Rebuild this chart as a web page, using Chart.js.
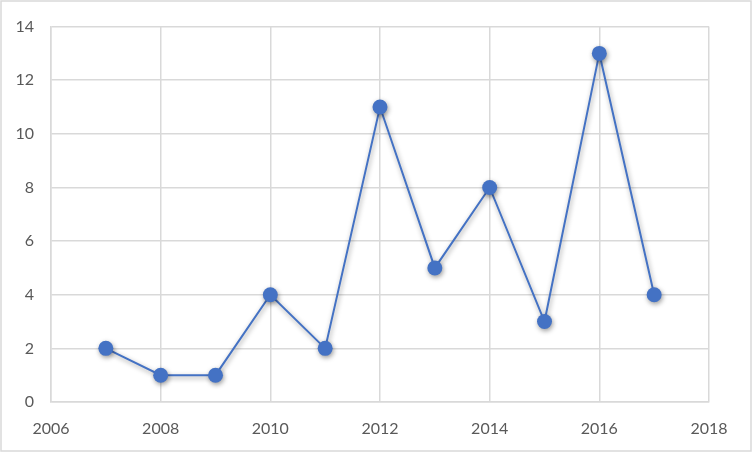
<!DOCTYPE html>
<html>
<head>
<meta charset="utf-8">
<script src="https://cdn.jsdelivr.net/npm/chart.js@4"></script>
<style>
  html, body { margin: 0; padding: 0; background: #fff; }
  #wrap { width: 752px; height: 452px; position: relative; }
</style>
</head>
<body>
<div id="wrap"><canvas id="chart"></canvas></div>
<script>
const years  = [2007, 2008, 2009, 2010, 2011, 2012, 2013, 2014, 2015, 2016, 2017];
const values = [2, 1, 1, 4, 2, 11, 5, 8, 3, 13, 4];

const X_MIN = 2006, X_MAX = 2018, X_STEP = 2;
const Y_MIN = 0, Y_MAX = 14, Y_STEP = 2;

const GRID = '#d9d9d9';
const TEXT = '#595959';
const BLUE = '#4472c4';

const outerBorder = {
    id: 'outerBorder',
    afterDraw(chart) {
        const ctx = chart.ctx;
        ctx.save();
        ctx.strokeStyle = GRID;
        ctx.lineWidth = 1.5;
        ctx.strokeRect(1, 1, chart.width - 2, chart.height - 2);
        ctx.restore();
    }
};

const markerShadow = {
    id: 'markerShadow',
    beforeDatasetDraw(chart) {
        const ctx = chart.ctx;
        ctx.save();
        ctx.shadowColor = 'rgba(0,0,0,0.4)';
        ctx.shadowBlur = 5;
        ctx.shadowOffsetX = 1;
        ctx.shadowOffsetY = 2;
    },
    afterDatasetDraw(chart) {
        chart.ctx.restore();
    }
};

new Chart(document.getElementById('chart'), {
    type: 'scatter',
    data: {
        datasets: [{
            data: years.map((y, i) => ({ x: y, y: values[i] })),
            showLine: true,
            borderColor: BLUE,
            borderWidth: 2,
            backgroundColor: BLUE,
            pointBackgroundColor: BLUE,
            pointBorderColor: BLUE,
            pointRadius: 7.5,
            pointBorderWidth: 0,
            tension: 0
        }]
    },
    options: {
        responsive: true,
        maintainAspectRatio: false,
        animation: false,
        layout: { padding: { top: 24, right: 43, left: 0, bottom: 0 } },
        plugins: {
            legend: { display: false },
            tooltip: { enabled: false }
        },
        scales: {
            x: {
                type: 'linear',
                min: X_MIN, max: X_MAX,
                afterFit(scale) { scale.height = 50; },
                border: { color: GRID, width: 1.5 },
                grid: { color: GRID, lineWidth: 1.5, drawTicks: false },
                ticks: {
                    stepSize: X_STEP,
                    padding: 17,
                    color: TEXT,
                    font: { family: 'Lato', size: 16 },
                    callback: v => String(v)
                }
            },
            y: {
                min: Y_MIN, max: Y_MAX,
                afterFit(scale) { scale.width = 51; },
                border: { color: GRID, width: 1.5 },
                grid: { color: GRID, lineWidth: 1.5, drawTicks: false },
                ticks: {
                    stepSize: Y_STEP,
                    padding: 17,
                    color: TEXT,
                    font: { family: 'Lato', size: 16 }
                }
            }
        }
    },
    plugins: [markerShadow, outerBorder]
});
</script>
</body>
</html>
